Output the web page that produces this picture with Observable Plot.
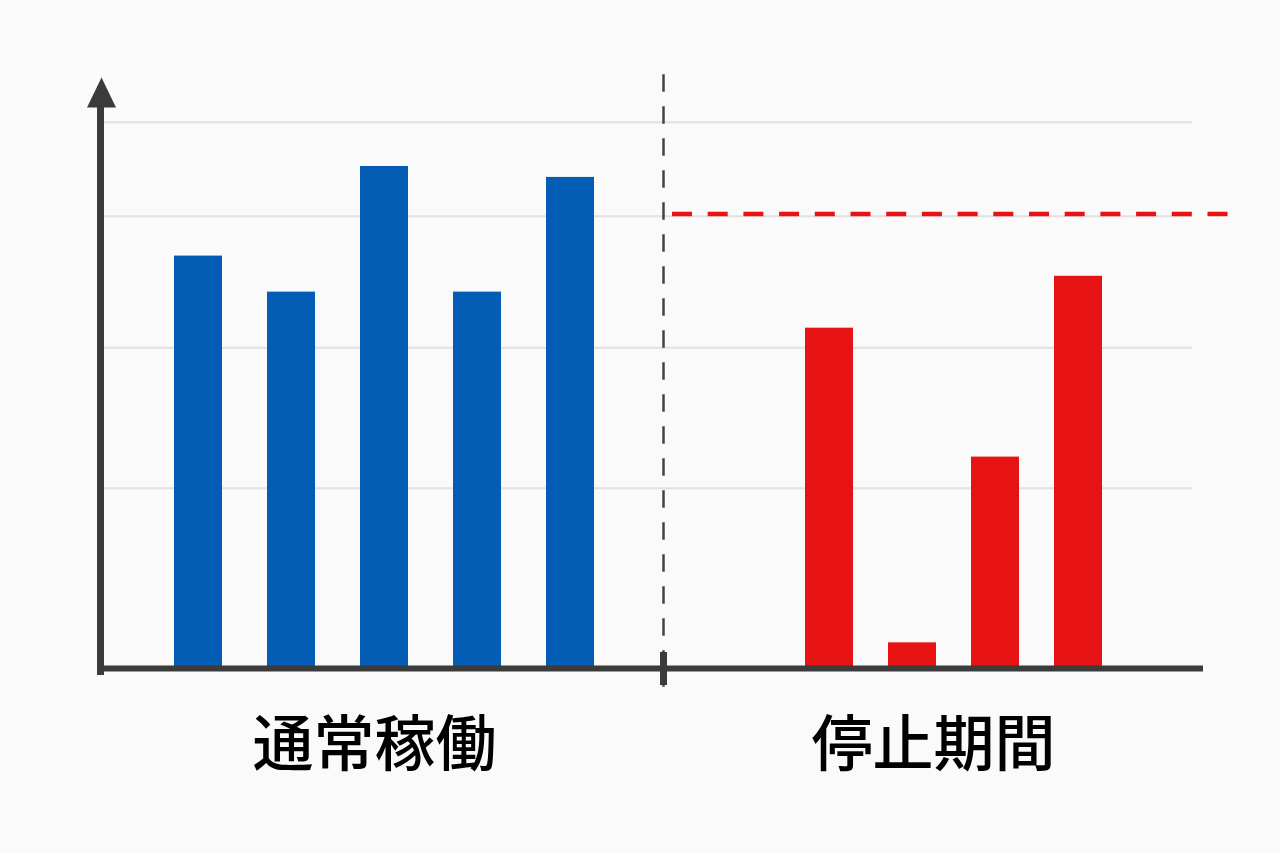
<!DOCTYPE html>
<html>
<head>
<meta charset="utf-8">
<script src="https://cdn.jsdelivr.net/npm/d3@7"></script>
<script src="https://cdn.jsdelivr.net/npm/@observablehq/plot@0.6"></script>
<style>
  html, body { margin: 0; padding: 0; background: #fafafa; }
  #chart { position: relative; width: 1280px; height: 853px; display: flex; background: #fafafa; }
  #chart svg { flex: none; }
</style>
</head>
<body>
<div id="chart"></div>
<script>
// ---- data ----
const groupLabels = ["通常稼働", "停止期間"];
const normalCats = ["N1", "N2", "N3", "N4", "N5"];
const normalValues = [75.5, 68.9, 91.9, 68.9, 89.9];
const stopCats = ["S1", "S2", "S3", "S4"];
const stopValues = [62.3, 4.7, 38.7, 71.8];
const gridValues = [33, 58.7, 82.8, 100];
const thresholdValue = [83.2];

// ---- styles ----
const BLUE = "#045db5";
const RED = "#e61214";
const AXIS = "#3b3b3b";
const GRID = "#e0e0e5";
const FONT = "'Noto Sans CJK JP', 'Noto Sans CJK SC', sans-serif";
const H = 853, MT = 107, MB = 185;
const yScale = {domain: [0, 102.7], axis: null};

const normalData = normalCats.map((c, i) => ({cat: c, value: normalValues[i]}));
const stopData = stopCats.map((c, i) => ({cat: c, value: stopValues[i]}));

const arrowHead = {
  draw(context, size) {
    const r = Math.sqrt(size / Math.PI);
    context.moveTo(0, -2.07 * r);
    context.lineTo(r, 0);
    context.lineTo(-r, 0);
    context.closePath();
  }
};

const left = Plot.plot({
  width: 663, height: H,
  marginLeft: 100, marginRight: 0, marginTop: MT, marginBottom: MB,
  style: {background: "transparent", overflow: "visible"},
  x: {type: "band", domain: normalCats, paddingInner: 0.482, paddingOuter: 0.736, align: 0.516, axis: null},
  y: yScale,
  marks: [
    Plot.ruleY(gridValues, {stroke: GRID, strokeWidth: 2}),
    Plot.barY(normalData, {x: "cat", y: "value", fill: BLUE}),
    Plot.ruleY([0], {stroke: AXIS, strokeWidth: 6, insetLeft: -3}),
    Plot.frame({anchor: "left", stroke: AXIS, strokeWidth: 7, strokeOpacity: 1, insetBottom: -3}),
    Plot.dot([0], {frameAnchor: "top-left", symbol: arrowHead, r: 14.5, fill: AXIS, stroke: "none", dx: 1}),
    Plot.text([groupLabels[0]], {frameAnchor: "bottom", text: d => d, dy: 97, dx: -7.5,
      fontSize: 61, fontWeight: 500, fill: "#000", fontFamily: FONT})
  ]
});

const right = Plot.plot({
  width: 617, height: H,
  marginLeft: 0, marginRight: 88, marginTop: MT, marginBottom: MB,
  style: {background: "transparent", overflow: "visible"},
  x: {type: "band", domain: stopCats, paddingInner: 0.426, paddingOuter: 1.377, align: 0.61, axis: null},
  y: yScale,
  marks: [
    Plot.ruleY(gridValues, {stroke: GRID, strokeWidth: 2}),
    Plot.frame({anchor: "left", stroke: "#444", strokeWidth: 2.5, strokeOpacity: 1,
      strokeDasharray: "15 17", insetTop: -32, insetBottom: -17}),
    Plot.ruleY(thresholdValue, {stroke: RED, strokeWidth: 4.5, strokeDasharray: "20 15.7",
      insetLeft: 9, insetRight: -36}),
    Plot.barY(stopData, {x: "cat", y: "value", fill: RED}),
    Plot.ruleY([0], {stroke: AXIS, strokeWidth: 6, insetRight: -11}),
    Plot.frame({anchor: "left", stroke: AXIS, strokeWidth: 7, strokeOpacity: 1, insetTop: 548, insetBottom: -13}),
    Plot.text([groupLabels[1]], {frameAnchor: "bottom", text: d => d, dy: 97, dx: 5.5,
      fontSize: 61, fontWeight: 500, fill: "#000", fontFamily: FONT})
  ]
});

const chart = document.getElementById("chart");
chart.appendChild(left);
chart.appendChild(right);
</script>
</body>
</html>
